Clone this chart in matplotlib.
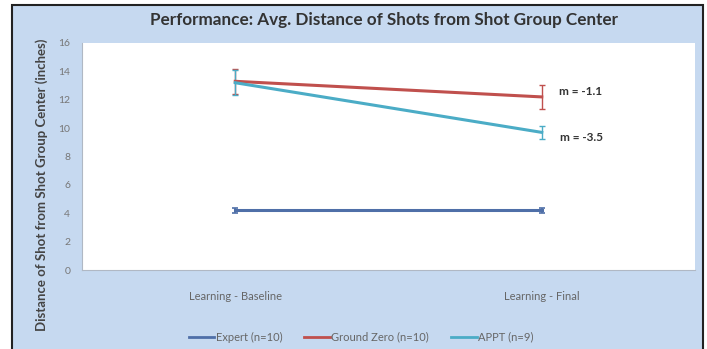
import matplotlib.pyplot as plt
from matplotlib.patches import Rectangle
from matplotlib.lines import Line2D

# values
phases = ['Learning - Baseline', 'Learning - Final']
expert = [4.2, 4.2]
expert_err = [0.15, 0.15]
ground_zero = [13.3, 12.2]
ground_zero_err = [0.9, 0.85]
appt = [13.2, 9.7]
appt_err = [0.9, 0.45]
slope_labels = ['m = -1.1', 'm = -3.5']
yticks = [0, 2, 4, 6, 8, 10, 12, 14, 16]
series_names = ['Expert (n=10)', 'Ground Zero (n=10)', 'APPT (n=9)']
colors = ['#4f6fa8', '#c0504d', '#4bacc6']

plt.rcParams['font.family'] = ['Lato', 'DejaVu Sans']

fig = plt.figure(figsize=(7.07, 3.49), dpi=100)
fig.patch.set_facecolor('white')
# light blue chart frame with dark border
fig.patches.append(Rectangle((12/707, -0.01), 691/707, 1.01 - 5/349,
                             transform=fig.transFigure, facecolor='#c6d9f0',
                             edgecolor='#222222', linewidth=1.5, zorder=-5))

ax = fig.add_axes([82/707, 79/349, 613/707, 227/349])
ax.set_zorder(2)
ax.set_facecolor('white')

x = range(len(phases))
ax.errorbar(x, expert, yerr=expert_err, color=colors[0], lw=2.2, capsize=2.5,
            elinewidth=1.2, capthick=1.2)
ax.errorbar(x, ground_zero, yerr=ground_zero_err, color=colors[1], lw=2.2, capsize=2.5,
            elinewidth=1.0, capthick=1.0)
ax.errorbar(x, appt, yerr=appt_err, color=colors[2], lw=2.2, capsize=2.5,
            elinewidth=1.0, capthick=1.0)

# slope annotations next to the final points
ax.text(1.055, ground_zero[1] + 0.35, slope_labels[0], fontsize=8.5, color='#333333',
        va='center', fontweight='bold')
ax.text(1.06, appt[1] - 0.35, slope_labels[1], fontsize=8.5, color='#333333',
        va='center', fontweight='bold')

ax.set_xlim(-0.5, 1.5)
ax.set_ylim(0, 16)
ax.set_xticks(list(x))
ax.set_xticklabels(phases, fontsize=8, color='#666666')
ax.set_yticks(yticks)
ax.set_yticklabels([str(t) for t in yticks], fontsize=7.5, color='#777777')
ax.tick_params(axis='x', length=0, pad=15)
ax.tick_params(axis='y', length=0, pad=8.5)
for s in ['top', 'right']:
    ax.spines[s].set_visible(False)
for s in ['left', 'bottom']:
    ax.spines[s].set_color('#b0b8c4')
    ax.spines[s].set_linewidth(0.8)

fig.text(42/707, 1 - 185/349, 'Distance of Shot from Shot Group Center (inches)',
         rotation=90, ha='center', va='center', fontsize=9.5, fontweight='bold',
         color='#444444')

fig.text(384/707, 1 - 20/349, 'Performance: Avg. Distance of Shots from Shot Group Center',
         ha='center', va='center', fontsize=12.3, fontweight='bold', color='#333333')

handles = [Line2D([], [], color=c, lw=2) for c in colors]
fig.legend(handles, series_names, loc='center', bbox_to_anchor=(361/707, 1 - 337/349),
           ncol=3, frameon=False, fontsize=8, handlelength=2.3, handletextpad=0.1,
           columnspacing=2, labelcolor='#666666')

fig.savefig('out.png', dpi=100, facecolor=fig.get_facecolor())
